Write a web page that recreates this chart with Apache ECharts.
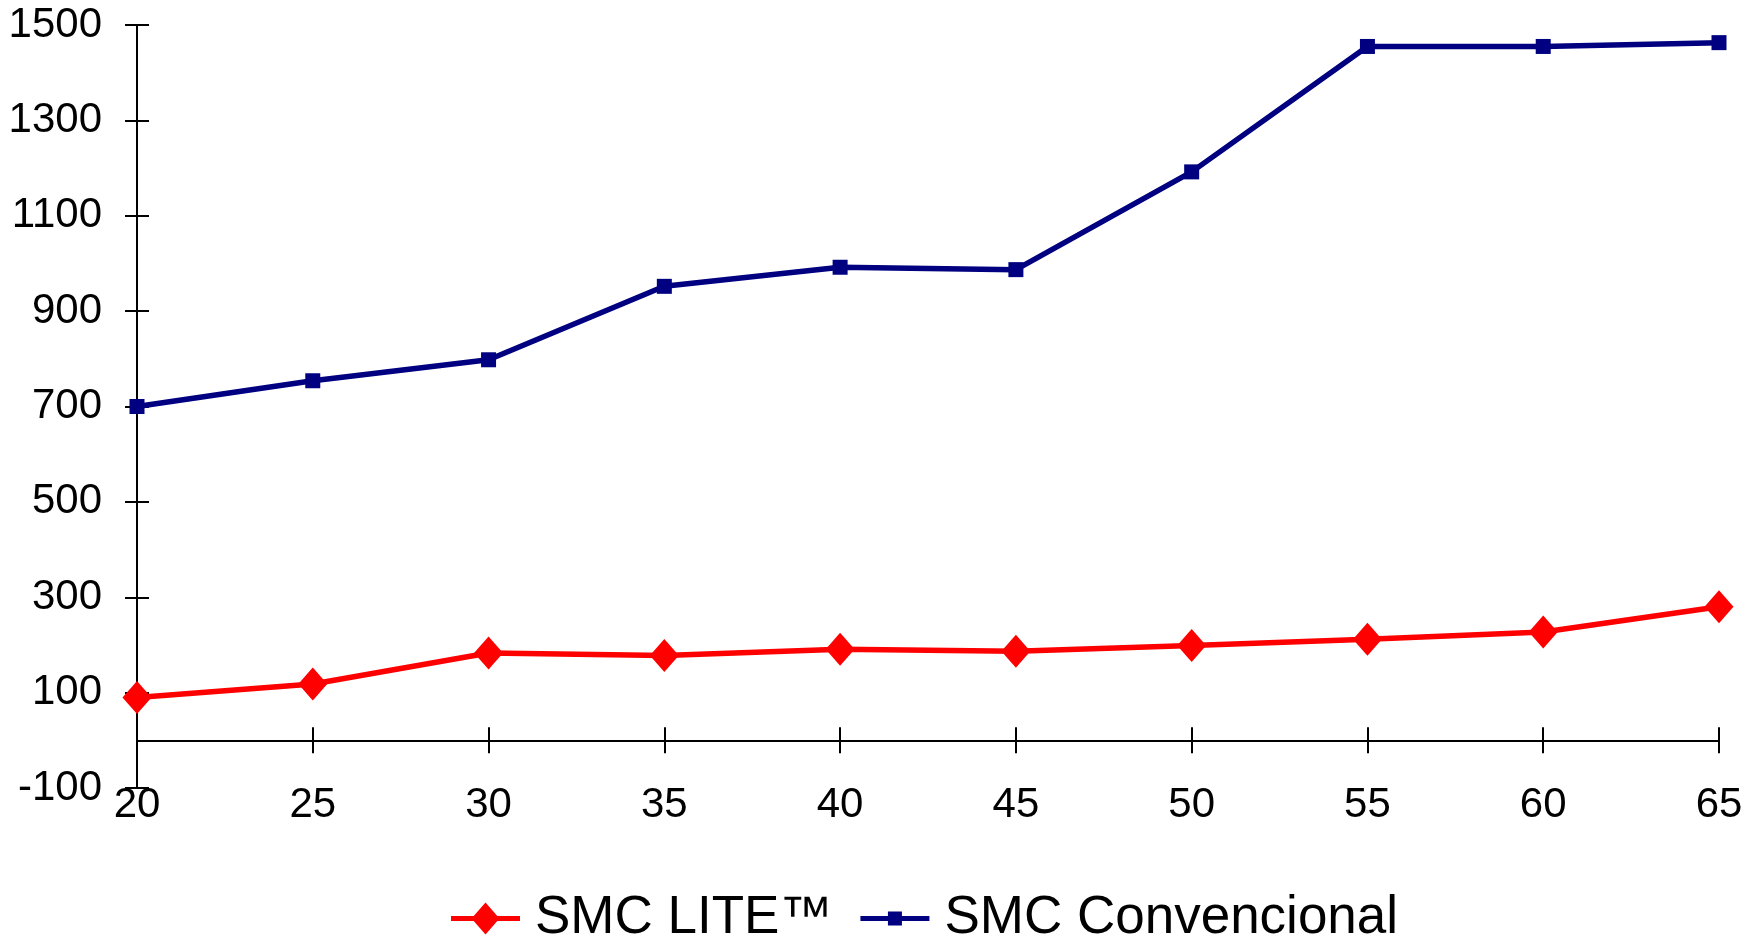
<!DOCTYPE html>
<html>
<head>
<meta charset="utf-8">
<script src="https://cdn.jsdelivr.net/npm/echarts@6/dist/echarts.min.js"></script>
<style>
html,body{margin:0;padding:0;background:#fff;}
#c{width:1756px;height:939px;}
</style>
</head>
<body>
<div id="c"></div>
<script>
const categories = ['20', '25', '30', '35', '40', '45', '50', '55', '60', '65'];
const seriesNames = ['SMC LITE™', 'SMC Convencional'];
const smcLite = [90, 118, 183, 178, 191, 187, 199, 212, 227, 280];
const smcConvencional = [700, 754, 798, 952, 992, 987, 1192, 1455, 1455, 1463];
const yMin = -100, yMax = 1500, yStep = 200;

const FONT = 'Liberation Sans, Arial, sans-serif';
const chart = echarts.init(document.getElementById('c'), null, {renderer: 'canvas'});

const baseX = {
  type: 'category', data: categories, boundaryGap: false, gridIndex: 0
};
const baseY = {
  type: 'value', min: yMin, max: yMax, interval: yStep, splitLine: {show: false}
};

chart.setOption({
  animation: false,
  backgroundColor: '#ffffff',
  grid: {left: 137, right: 37, top: 25, bottom: 151, containLabel: false},
  legend: {
    left: 446, top: 887,
    itemWidth: 69, itemHeight: 32, itemGap: 28,
    symbolKeepAspect: true,
    textStyle: {fontFamily: FONT, fontSize: 53, color: '#000', lineHeight: 53, padding: [0, 0, 0, 10]},
    itemStyle: {borderWidth: 0},
    data: [
      {name: seriesNames[0], icon: 'path://M0,13.5H69V18.5H0Z M34.5,0L48.5,16L34.5,32L20.5,16Z'},
      {name: seriesNames[1], icon: 'path://M0,4.5H69V9.5H0Z M27.5,0H41.5V14H27.5Z'}
    ]
  },
  xAxis: [
    Object.assign({}, baseX, {
      position: 'bottom',
      axisLine: {show: true, onZero: true, lineStyle: {color: '#000', width: 2}},
      axisTick: {show: true, inside: false, length: 13, lineStyle: {color: '#000', width: 2}},
      axisLabel: {show: false}
    }),
    Object.assign({}, baseX, {
      position: 'bottom',
      axisLine: {show: true, onZero: true, lineStyle: {color: '#000', width: 2}},
      axisTick: {show: true, inside: true, length: 13, lineStyle: {color: '#000', width: 2}},
      axisLabel: {show: false}
    }),
    Object.assign({}, baseX, {
      position: 'bottom',
      axisLine: {show: false, onZero: false},
      axisTick: {show: false},
      axisLabel: {show: true, margin: -4, fontFamily: FONT, fontSize: 42, color: '#000'}
    })
  ],
  yAxis: [
    Object.assign({}, baseY, {
      position: 'left',
      axisLine: {show: true, lineStyle: {color: '#000', width: 2}},
      axisTick: {show: true, inside: false, length: 12, lineStyle: {color: '#000', width: 2}},
      axisLabel: {show: true, margin: 35, fontFamily: FONT, fontSize: 42, color: '#000',
        formatter: function (v) { return String(v); }}
    }),
    Object.assign({}, baseY, {
      position: 'left',
      axisLine: {show: false},
      axisTick: {show: true, inside: true, length: 12, lineStyle: {color: '#000', width: 2}},
      axisLabel: {show: false}
    })
  ],
  series: [
    {
      name: seriesNames[0], type: 'line', data: smcLite, xAxisIndex: 0, yAxisIndex: 0,
      symbol: 'diamond', symbolSize: [29, 33],
      lineStyle: {color: '#ff0000', width: 5.5},
      itemStyle: {color: '#ff0000', borderWidth: 0}
    },
    {
      name: seriesNames[1], type: 'line', data: smcConvencional, xAxisIndex: 0, yAxisIndex: 0,
      symbol: 'rect', symbolSize: 15,
      lineStyle: {color: '#000080', width: 5.5},
      itemStyle: {color: '#000080', borderWidth: 0}
    }
  ]
});
</script>
</body>
</html>
